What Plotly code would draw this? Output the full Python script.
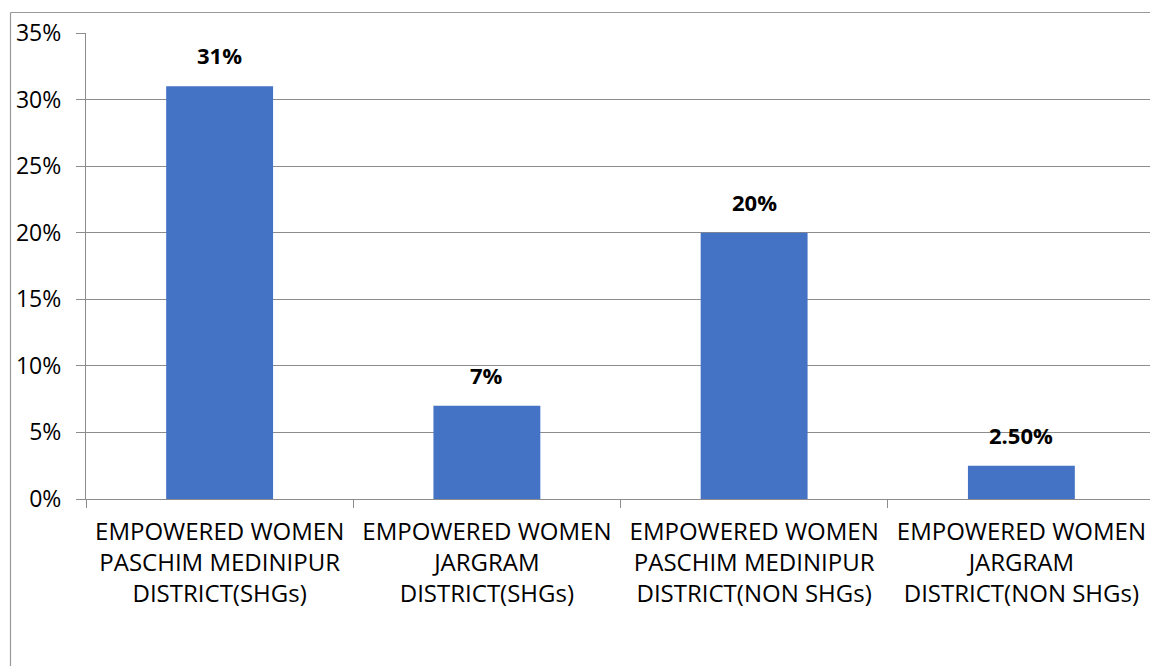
import plotly.graph_objects as go

# Share of empowered women by district and group
categories = [
    "EMPOWERED WOMEN<br>PASCHIM MEDINIPUR<br>DISTRICT(SHGs)",
    "EMPOWERED WOMEN<br>JARGRAM<br>DISTRICT(SHGs)",
    "EMPOWERED WOMEN<br>PASCHIM MEDINIPUR<br>DISTRICT(NON SHGs)",
    "EMPOWERED WOMEN<br>JARGRAM<br>DISTRICT(NON SHGs)",
]
values = [0.31, 0.07, 0.20, 0.025]
value_labels = ["31%", "7%", "20%", "2.50%"]

y_ticks = [0, 0.05, 0.10, 0.15, 0.20, 0.25, 0.30, 0.35]

BAR = "#4472C4"
GRID = "#8c8c8c"
FONT = "Open Sans"

fig = go.Figure(
    go.Bar(
        x=categories,
        y=values,
        marker=dict(color=BAR, line=dict(width=0)),
        width=0.4,
        hoverinfo="skip",
    )
)

for cat, val, lab in zip(categories, values, value_labels):
    fig.add_annotation(
        x=cat, y=val, text=f"<b>{lab}</b>", showarrow=False,
        yanchor="bottom", yshift=14,
        font=dict(family=FONT, size=22, color="#000000"),
    )

# outer chart frame (left and top edges visible)
L, T, B = 86, 33, 499
W, H = 1150, 666
pw, ph = W - L, B - T
def px(x): return (x - L) / pw
def py(y): return (B - y) / ph

fig.add_shape(type="line", xref="paper", yref="paper",
              x0=px(10.5), x1=px(10.5), y0=py(12.5), y1=py(700),
              line=dict(color="#9a9a9a", width=1.2))
fig.add_shape(type="line", xref="paper", yref="paper",
              x0=px(10.5), x1=px(1200), y0=py(12.5), y1=py(12.5),
              line=dict(color="#9a9a9a", width=1.2))

fig.update_layout(
    width=W, height=H,
    margin=dict(l=L, r=0, t=T, b=H - B, pad=0),
    paper_bgcolor="white", plot_bgcolor="white",
    showlegend=False,
    font=dict(family=FONT, size=23, color="#000000"),
    xaxis=dict(
        type="category",
        range=[-0.5, 3.5 - 5 / 267.0],
        showgrid=False,
        showline=True, linecolor=GRID, linewidth=1.2,
        ticks="outside", tickson="boundaries", ticklen=8,
        tickcolor=GRID, tickwidth=1.2,
        tickfont=dict(family=FONT, size=24, color="#000000"),
        ticklabelstandoff=11,
    ),
    yaxis=dict(
        range=[0, 0.35],
        tickvals=y_ticks,
        tickformat=".0%",
        showgrid=True, gridcolor=GRID, gridwidth=1.2,
        showline=True, linecolor=GRID, linewidth=1.2,
        ticks="outside", ticklen=9, tickcolor=GRID, tickwidth=1.2,
        tickfont=dict(family=FONT, size=23, color="#000000"),
        zeroline=False,
        ticklabelstandoff=10,
    ),
)

fig.write_html("out.html")
